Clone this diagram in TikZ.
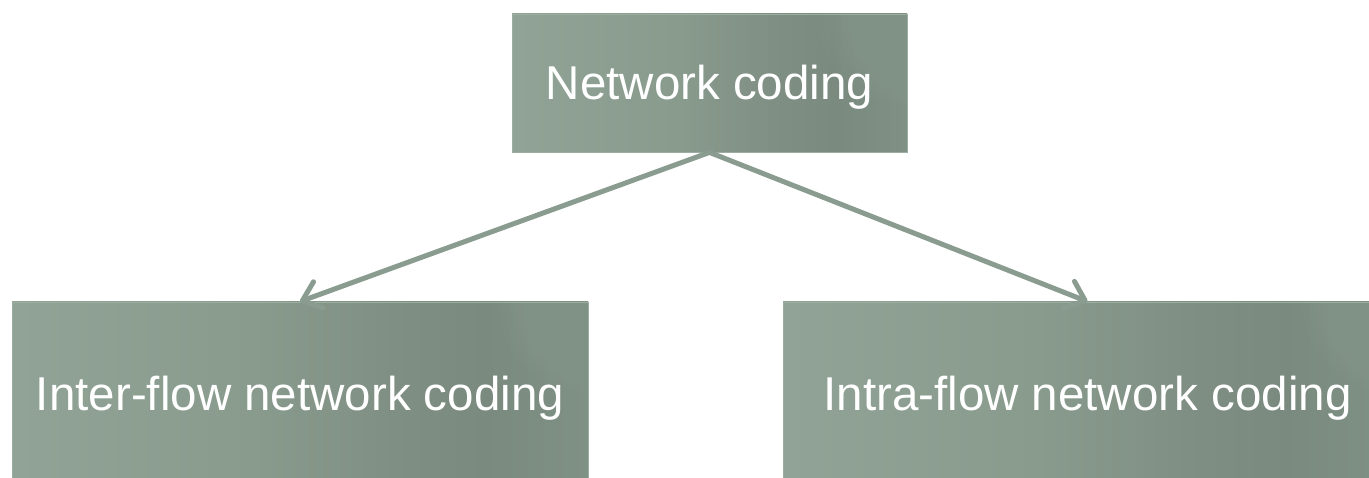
\documentclass[tikz,border=0pt]{standalone}
\usepackage{fontspec}
\setmainfont{Liberation Sans}
\usetikzlibrary{arrows.meta}

\definecolor{boxA}{HTML}{90A396}
\definecolor{boxB}{HTML}{889B8D}
\definecolor{boxC}{HTML}{808F84}
\definecolor{boxD}{HTML}{7A8A7F}
\definecolor{boxE}{HTML}{7F9084}
\definecolor{glow}{HTML}{9CAEA1}
\definecolor{boxedge}{HTML}{9DADA2}
\definecolor{arrowc}{HTML}{8A9C90}

% left-to-right fill of the category boxes (25bp..75bp spans the box)
\pgfdeclarehorizontalshading{boxshade}{100bp}{%
  color(0bp)=(boxA); color(25bp)=(boxA); color(46bp)=(boxB);
  color(58bp)=(boxC); color(66bp)=(boxD); color(75bp)=(boxE);
  color(100bp)=(boxE)}

\tikzset{
  catbox/.style={rectangle, shading=boxshade, draw=boxedge, line width=0.8pt,
    text=white, font=\fontsize{47.5}{57}\selectfont,
    text height=34pt, text depth=0pt, inner sep=0pt,
    % soft light in the upper right corner
    path picture={%
      \foreach \r in {90,84,...,6}
        \fill[glow, opacity=0.035]
          (path picture bounding box.north east) circle (\r pt);}},
  link/.style={draw=arrowc, line width=5pt, line cap=round,
    -{Straight Barb[length=17pt,width=28pt,round]}}
}

\begin{document}
\begin{tikzpicture}[x=1pt,y=-1pt]
  \useasboundingbox (0,0) rectangle (1369,478);
  \clip (0,0) rectangle (1369,478);

  \node[catbox, minimum width=395pt, minimum height=138pt]
    (root) at (709.5,83) {Network coding};
  \node[catbox, minimum width=576pt, minimum height=183pt]
    (inter) at (300,393.5) {Inter-flow network coding};
  \node[catbox, minimum width=609pt, minimum height=183pt]
    (intra) at (1087.5,393.5) {Intra-flow network coding};

  \draw[link] (root.south) -- (inter.north);
  \draw[link] (root.south) -- (intra.north);
\end{tikzpicture}
\end{document}
